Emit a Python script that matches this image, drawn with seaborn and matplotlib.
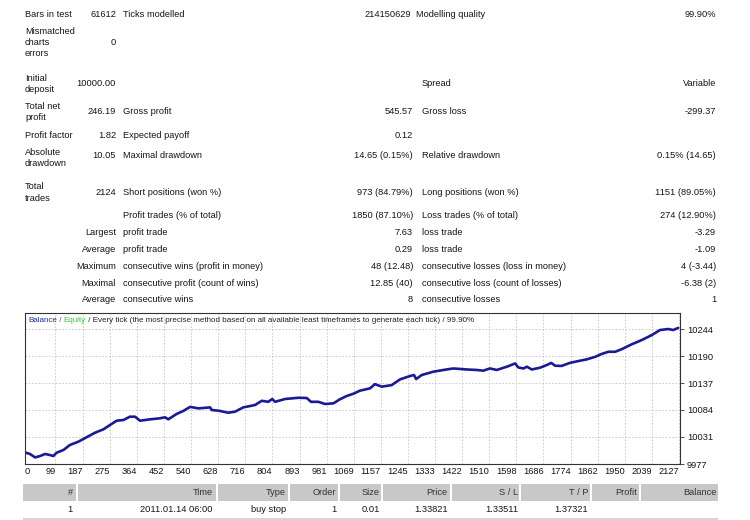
import matplotlib
matplotlib.use("Agg")
import matplotlib.pyplot as plt
import seaborn as sns
import pandas as pd
from matplotlib.patches import Rectangle

# ---------------- data ----------------
trade_no = [0, 16, 33, 49, 65, 81, 92, 103, 125, 146, 173, 200, 228, 255, 276, 298,
            320, 341, 358, 374, 407, 439, 455, 466, 493, 515, 537, 564, 602, 607, 629,
            661, 683, 710, 748, 770, 791, 804, 813, 846, 889, 916, 930, 954, 976, 1003,
            1024, 1046, 1068, 1089, 1122, 1138, 1160, 1192, 1220, 1252, 1265, 1272, 1290,
            1328, 1371, 1393, 1436, 1469, 1490, 1512, 1534, 1567, 1594, 1604, 1621, 1632,
            1648, 1675, 1697, 1711, 1724, 1745, 1772, 1800, 1827, 1854, 1875, 1897, 1919,
            1940, 1973, 2005, 2038, 2065, 2092, 2108, 2124]
balance = [10000, 9996.8, 9990, 9992.8, 9996.8, 9994.8, 9992.8, 9999.4, 10004.7, 10014.6,
           10021, 10029.8, 10039, 10045.6, 10054, 10062.6, 10064, 10070.6, 10070.6, 10062.6,
           10065.4, 10067.4, 10069.4, 10065.4, 10076, 10082, 10090, 10087, 10089, 10083.8,
           10082.5, 10078.5, 10080.5, 10089, 10093.7, 10102, 10100, 10105.6, 10100, 10105.6,
           10108, 10107.6, 10100, 10100, 10095.7, 10097, 10105, 10111.5, 10116, 10122,
           10126.7, 10135, 10130, 10133, 10144.5, 10151, 10153, 10145, 10153, 10159.6,
           10164, 10166, 10164, 10163, 10161.6, 10166, 10163, 10169.5, 10176, 10168,
           10166, 10169.5, 10164, 10167.5, 10172.8, 10177, 10171.4, 10171, 10177, 10180.7,
           10184, 10189, 10194.6, 10199, 10199, 10204, 10213.8, 10222, 10232, 10242,
           10244, 10242, 10246.2]

x_ticks = [0, 99, 187, 275, 364, 452, 540, 628, 716, 804, 893, 981, 1069, 1157, 1245,
           1333, 1422, 1510, 1598, 1686, 1774, 1862, 1950, 2039, 2127]
y_ticks = [9977, 10031, 10084, 10137, 10190, 10244]

title_parts = ["Balance", " / ", "Equity", " / Every tick (the most precise method based on all available least timeframes to generate each tick) / 99.90%"]

left_labels = [["Bars in test"], ["Mismatched", "charts", "errors"], ["Initial", "deposit"],
               ["Total net", "profit"], ["Profit factor"], ["Absolute", "drawdown"], ["Total", "trades"]]
left_values = ["61612", "0", "10000.00", "246.19", "1.82", "10.05", "2124"]
sub_labels = ["Largest", "Average", "Maximum", "Maximal", "Average"]
mid_labels = ["Ticks modelled", "", "", "Gross profit", "Expected payoff", "Maximal drawdown",
              "Short positions (won %)", "Profit trades (% of total)", "profit trade", "profit trade",
              "consecutive wins (profit in money)", "consecutive profit (count of wins)", "consecutive wins"]
mid_values = ["214150629", "", "", "545.57", "0.12", "14.65 (0.15%)", "973 (84.79%)", "1850 (87.10%)",
              "7.63", "0.29", "48 (12.48)", "12.85 (40)", "8"]
right_labels = ["Modelling quality", "", "Spread", "Gross loss", "", "Relative drawdown",
                "Long positions (won %)", "Loss trades (% of total)", "loss trade", "loss trade",
                "consecutive losses (loss in money)", "consecutive loss (count of losses)", "consecutive losses"]
right_values = ["99.90%", "", "Variable", "-299.37", "", "0.15% (14.65)", "1151 (89.05%)", "274 (12.90%)",
                "-3.29", "-1.09", "4 (-3.44)", "-6.38 (2)", "1"]

table_header = ["#", "Time", "Type", "Order", "Size", "Price", "S / L", "T / P", "Profit", "Balance"]
table_row1 = ["1", "2011.01.14 06:00", "buy stop", "1", "0.01", "1.33821", "1.33511", "1.37321", "", ""]

# ---------------- style ----------------
sns.set_theme(style="white")
plt.rcParams["font.family"] = ["Liberation Sans", "DejaVu Sans"]
W, H = 750, 520
FS = 6.7
TC = "#161616"
LINE = "#1a1a96"

fig = plt.figure(figsize=(W / 100, H / 100), dpi=100)
fig.patch.set_facecolor("white")


def T(x, y, s, ha="left", color=TC, fs=FS):
    return fig.text(x / W, 1 - y / H, s, ha=ha, va="center", fontsize=fs, color=color)


# ---------------- report block ----------------
row_y = [14.7, 42.7, 83.3, 111.7, 135, 156, 192.7, 215, 232.7, 249.3, 266.7, 283.3, 300]
left_line_y = [[14.7], [32, 42.7, 53.3], [78.7, 89.3], [106.7, 117.3], [135], [152.7, 163.3], [186.7, 198.3]]
for lines, ys in zip(left_labels, left_line_y):
    for s, yy in zip(lines, ys):
        T(25, yy, s)
for i, v in enumerate(left_values):
    T(116, row_y[i], v, ha="right")
for i, s in enumerate(sub_labels):
    T(116, row_y[8 + i], s, ha="right")
for i, (ml, mv, rl, rv) in enumerate(zip(mid_labels, mid_values, right_labels, right_values)):
    y = row_y[i]
    if ml:
        T(123, y, ml)
    if mv:
        T(411 if i == 0 else 413, y, mv, ha="right")
    if rl:
        T(416 if i == 0 else 422, y, rl)
    if rv:
        T(716, y, rv, ha="right")

# ---------------- chart ----------------
ax = fig.add_axes([25 / W, 1 - 464 / H, 655 / W, 151 / H])
df = pd.DataFrame({"trade": trade_no, "balance": balance})
sns.lineplot(data=df, x="trade", y="balance", ax=ax, color=LINE, linewidth=1.9)
ax.set_xlim(0, 2130)
ax.set_ylim(9977, 10275.7)
ax.set_xlabel("")
ax.set_ylabel("")
ax.set_xticks(x_ticks)
ax.set_xticklabels([str(v) for v in x_ticks], fontsize=FS, color=TC)
for i, lab in enumerate(ax.get_xticklabels()):
    lab.set_ha("left" if i == 0 else "right")
ax.set_yticks(y_ticks)
ax.set_yticklabels([str(v) for v in y_ticks], fontsize=FS, color=TC)
ax.yaxis.tick_right()
ax.tick_params(axis="x", length=0, pad=2)
ax.tick_params(axis="y", right=True, left=False, length=3, width=0.6, color="#333333",
               direction="out", pad=2)
ax.grid(True, color="#c4c4c4", linestyle=(0, (2, 2)), linewidth=0.6)
for sp in ax.spines.values():
    sp.set_color("#333333")
    sp.set_linewidth(0.8)

# multi-coloured title inside the chart
fig.canvas.draw()
r = fig.canvas.get_renderer()
xpos = 28
for s, c in zip(title_parts, ["#1c2a9a", "#555555", "#3cc43c", "#222222"]):
    t = T(xpos, 320.5, s, color=c, fs=5.8)
    xpos += t.get_window_extent(r).width

# ---------------- bottom table ----------------
fig.patches.append(Rectangle((22.7 / W, 1 - 500.7 / H), (718.3 - 22.7) / W, 16.7 / H,
                             transform=fig.transFigure, facecolor="#c8c8c8", edgecolor="none"))
for sx in [76.7, 216.7, 289, 339, 381.7, 451, 520, 591, 640]:
    fig.patches.append(Rectangle(((sx - 1) / W, 1 - 500.7 / H), 2 / W, 16.7 / H,
                                 transform=fig.transFigure, facecolor="white", edgecolor="none"))
fig.patches.append(Rectangle((22.7 / W, 0), (718.3 - 22.7) / W, 1.8 / H,
                             transform=fig.transFigure, facecolor="#d6d6d6", edgecolor="none"))
col_right = [73, 212.7, 286, 336, 380, 447.7, 518.3, 588.3, 636.7, 716.7]
for xr, hdr, val in zip(col_right, table_header, table_row1):
    T(xr, 492.5, hdr, ha="right", color="#333333")
    if val:
        T(xr, 509.3, val, ha="right")

fig.savefig("out.png", dpi=100, facecolor="white")
